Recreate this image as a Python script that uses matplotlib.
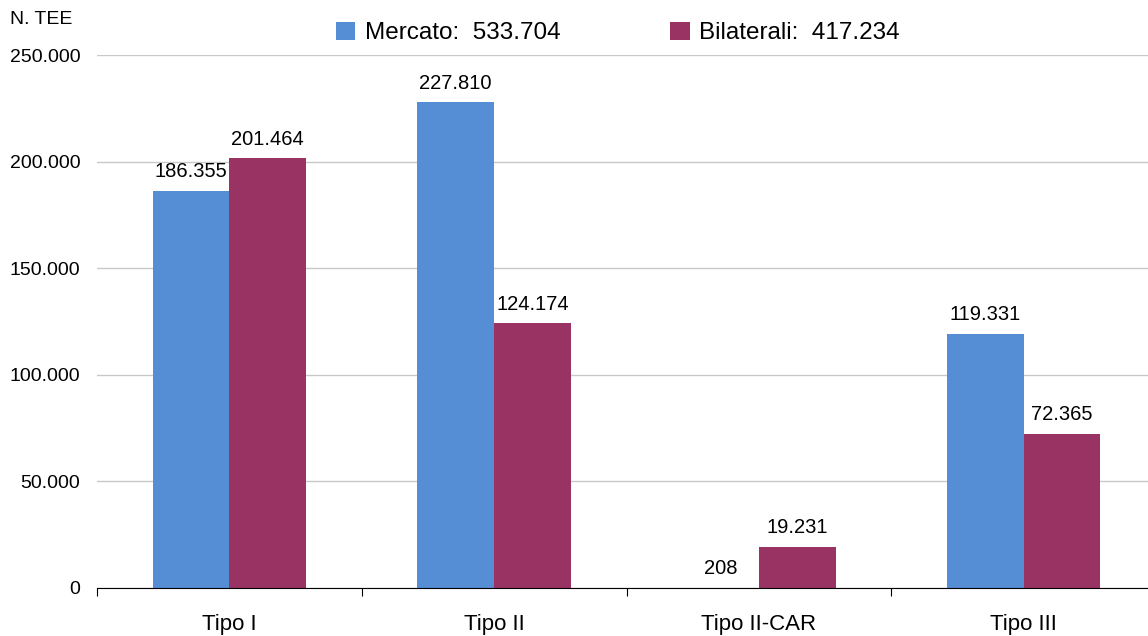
import matplotlib
matplotlib.use('Agg')
import matplotlib.pyplot as plt
from matplotlib.ticker import FixedLocator, FuncFormatter
import numpy as np

categories = ['Tipo I', 'Tipo II', 'Tipo II-CAR', 'Tipo III']
mercato = [186355, 227810, 208, 119331]
bilaterali = [201464, 124174, 19231, 72365]
legend_labels = ['Mercato:  533.704', 'Bilaterali:  417.234']
y_ticks = [0, 50000, 100000, 150000, 200000, 250000]

BLUE = '#558ED5'
MAROON = '#983363'

plt.rcParams['font.family'] = ['Liberation Sans', 'DejaVu Sans']


def fmt_it(v, pos=None):
    # Italian thousands separator
    return f'{int(round(v)):,}'.replace(',', '.')


fig = plt.figure(figsize=(11.48, 6.36), dpi=100)
# axes wider than the figure: the last category is cut at the right edge
ax = fig.add_axes([97 / 1148, (636 - 588) / 636, (1156 - 97) / 1148, 533 / 636])

x = np.arange(len(categories))
w = 0.29
b1 = ax.bar(x - w / 2, mercato, w, color=BLUE, label=legend_labels[0], zorder=3)
b2 = ax.bar(x + w / 2, bilaterali, w, color=MAROON, label=legend_labels[1], zorder=3)

for bars, vals in ((b1, mercato), (b2, bilaterali)):
    for rect, v in zip(bars, vals):
        ax.annotate(fmt_it(v), (rect.get_x() + rect.get_width() / 2, v),
                    xytext=(0, 7), textcoords='offset points',
                    ha='center', va='bottom', fontsize=14.5)

ax.set_xlim(-0.5, len(categories) - 0.5)
ax.set_ylim(0, 250000)

ax.yaxis.set_major_locator(FixedLocator(y_ticks))
ax.yaxis.set_major_formatter(FuncFormatter(fmt_it))
ax.tick_params(axis='y', length=0, pad=12, labelsize=14)
ax.grid(axis='y', color='#C8C8C8', linewidth=1, zorder=0)

ax.set_xticks(np.arange(-0.5, len(categories) + 0.5, 1.0))
ax.set_xticklabels([])
ax.tick_params(axis='x', which='major', length=6, direction='out', color='black')
ax.set_xticks(x, minor=True)
ax.set_xticklabels(categories, minor=True, fontsize=16)
ax.tick_params(axis='x', which='minor', length=0, pad=19)

for s in ('top', 'right', 'left'):
    ax.spines[s].set_visible(False)
ax.spines['bottom'].set_color('black')
ax.spines['bottom'].set_zorder(4)

fig.text(10 / 1148, 1 - 20 / 636, 'N. TEE', fontsize=14, va='center', ha='left')

fig.legend(loc='center', bbox_to_anchor=(618 / 1148, 1 - 33 / 636), ncol=2,
           frameon=False, fontsize=17.5, handlelength=0.8, handleheight=0.8,
           handletextpad=0.4, columnspacing=4.5)

fig.savefig('out.png', dpi=100)
